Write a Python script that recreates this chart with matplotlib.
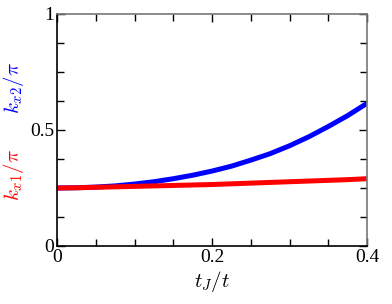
import numpy as np
import matplotlib
matplotlib.use('Agg')
import matplotlib.pyplot as plt
from matplotlib.ticker import MultipleLocator

plt.rcParams['font.family'] = 'serif'
plt.rcParams['font.serif'] = ['Liberation Serif', 'DejaVu Serif']
plt.rcParams['mathtext.fontset'] = 'cm'

# data
tj = [0.0, 0.025, 0.05, 0.075, 0.1, 0.125, 0.15, 0.175, 0.2, 0.225,
      0.25, 0.275, 0.3, 0.325, 0.35, 0.375, 0.4]
kx2 = [0.250, 0.251, 0.254, 0.259, 0.267, 0.277, 0.290, 0.305, 0.323, 0.344,
       0.370, 0.398, 0.432, 0.471, 0.515, 0.562, 0.615]
kx1 = [0.250, 0.251, 0.253, 0.255, 0.257, 0.259, 0.261, 0.263, 0.265, 0.268,
       0.271, 0.274, 0.277, 0.280, 0.283, 0.286, 0.290]

fig = plt.figure(figsize=(3.92, 3.04), dpi=100)
ax = fig.add_axes([57/392, 1 - 246/304, 310/392, 232/304])

ax.plot(tj, kx2, color='blue', lw=3.6, solid_capstyle='butt')
ax.plot(tj, kx1, color='red', lw=3.6, solid_capstyle='butt')

ax.set_xlim(0, 0.4)
ax.set_ylim(0, 1)
ax.xaxis.set_major_locator(MultipleLocator(0.2))
ax.xaxis.set_minor_locator(MultipleLocator(0.05))
ax.yaxis.set_major_locator(MultipleLocator(0.5))
ax.yaxis.set_minor_locator(MultipleLocator(0.125))
ax.xaxis.set_major_formatter(plt.FuncFormatter(lambda v, p: '0' if v == 0 else f'{v:g}'))
ax.yaxis.set_major_formatter(plt.FuncFormatter(lambda v, p: '0' if v == 0 else f'{v:g}'))

ax.tick_params(which='both', direction='in', top=True, right=True,
               labelsize=14, width=1, pad=2)
ax.tick_params(which='major', length=6)
ax.tick_params(which='minor', length=5)

for s in ['top', 'right']:
    ax.spines[s].set_color('#777777')
for s in ['left', 'bottom']:
    ax.spines[s].set_color('black')
for s in ax.spines.values():
    s.set_linewidth(1.2)

ax.set_xlabel(r'$t_J/t$', fontsize=15, labelpad=2)

fig.text(14/392, 1 - 175/304, r'$k_{x1}/\pi$', color='red', rotation=90,
         fontsize=15, ha='center', va='center')
fig.text(14/392, 1 - 88/304, r'$k_{x2}/\pi$', color='blue', rotation=90,
         fontsize=15, ha='center', va='center')

fig.savefig('out.png', dpi=100, facecolor='white')
